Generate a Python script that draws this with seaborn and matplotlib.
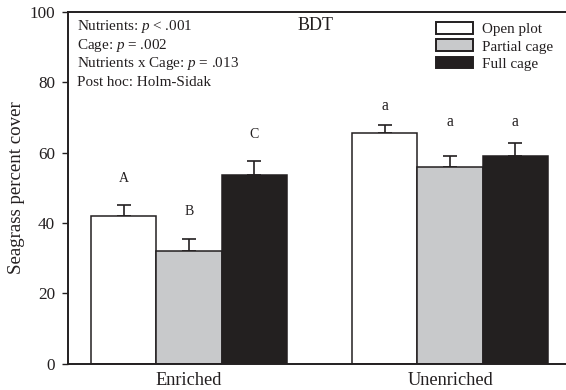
import matplotlib
matplotlib.use("Agg")
import matplotlib.pyplot as plt
import seaborn as sns
import pandas as pd
import numpy as np
from matplotlib.patches import Patch

# Seagrass cover by nutrient treatment and caging (BDT site)
treatments = ["Enriched", "Unenriched"]
cages = ["Open plot", "Partial cage", "Full cage"]
mean_enriched = [41.9, 32.1, 53.5]
mean_unenriched = [65.6, 56.0, 58.9]
se_enriched = [3.3, 3.2, 4.1]
se_unenriched = [2.2, 3.1, 3.9]
letters_enriched = ["A", "B", "C"]
letters_unenriched = ["a", "a", "a"]
letter_y_enriched = [52.6, 43.2, 65.2]
letter_y_unenriched = [73.1, 68.8, 68.8]
y_ticks = [0, 20, 40, 60, 80, 100]
stats_lines = [
    r"Nutrients: $p$ < .001",
    r"Cage: $p$ = .002",
    r"Nutrients x Cage: $p$ = .013",
    "Post hoc: Holm-Sidak",
]
panel_title = "BDT"
cage_colors = ["#ffffff", "#c8c9cb", "#231f20"]
ink = "#231f20"

df = pd.DataFrame({
    "treatment": np.repeat(treatments, len(cages)),
    "cage": cages * len(treatments),
    "cover": mean_enriched + mean_unenriched,
    "se": se_enriched + se_unenriched,
    "letter": letters_enriched + letters_unenriched,
    "letter_y": letter_y_enriched + letter_y_unenriched,
})

sns.set_theme(style="ticks")
plt.rcParams["font.family"] = ["Liberation Serif", "DejaVu Serif"]
plt.rcParams["mathtext.fontset"] = "custom"
plt.rcParams["mathtext.rm"] = "Liberation Serif"
plt.rcParams["mathtext.it"] = "Liberation Serif:italic"

fig = plt.figure(figsize=(5.66, 3.90), dpi=100)
ax = fig.add_axes([0.1201, 0.0674, 0.8799, 0.9024])

sns.barplot(
    data=df, x="treatment", y="cover", hue="cage",
    order=treatments, hue_order=cages, palette=cage_colors,
    width=0.75, errorbar=None, edgecolor=ink, linewidth=1.1,
    legend=False, ax=ax, zorder=2,
)

# upper standard-error whiskers and significance letters above each bar
for hi, cage in enumerate(cages):
    sub = df[df["cage"] == cage].set_index("treatment").loc[treatments]
    for bar, (_, row) in zip(ax.containers[hi], sub.iterrows()):
        xc = bar.get_x() + bar.get_width() / 2
        ax.errorbar(
            xc, row["cover"], yerr=[[0], [row["se"]]], fmt="none",
            ecolor=ink, elinewidth=1.2, capsize=5, capthick=1.2, zorder=1,
        )
        ax.text(xc, row["letter_y"], row["letter"], ha="center", va="center",
                fontsize=10 if row["letter"].isupper() else 11.2, color=ink)

ax.set_ylim(0, 100)
ax.set_xlim(-0.463, 1.444)
ax.set_yticks(y_ticks)
ax.set_xlabel("")
ax.set_ylabel("Seagrass percent cover", fontsize=13.6, color=ink, labelpad=3)
ax.tick_params(axis="y", length=4.3, width=1.0, labelsize=12.3, colors=ink, pad=5)
ax.tick_params(axis="x", length=0, labelsize=13.2, colors=ink, pad=6)
for side in ["left", "top", "bottom"]:
    ax.spines[side].set_visible(True)
    ax.spines[side].set_linewidth(1.4)
    ax.spines[side].set_color(ink)
ax.spines["right"].set_visible(False)

# ANOVA summary, one line per text so the spacing stays even
line_y = [0.9469, 0.8943, 0.8417, 0.7891]
for txt, yy in zip(stats_lines, line_y):
    ax.text(0.018, yy, txt, transform=ax.transAxes, ha="left", va="baseline",
            fontsize=10.9, color=ink)
ax.text(0.497, 0.9483, panel_title, transform=ax.transAxes, ha="center",
        va="baseline", fontsize=13, color=ink)

handles = [Patch(facecolor=c, edgecolor=ink, linewidth=1.4) for c in cage_colors]
leg = ax.legend(handles, cages, loc="upper right", bbox_to_anchor=(0.995, 1.0),
                frameon=False, fontsize=10.9, handlelength=2.4, handleheight=0.8,
                handletextpad=0.6, labelspacing=0.2, borderaxespad=0.3)
for t in leg.get_texts():
    t.set_color(ink)

fig.savefig("out.png", dpi=100)
